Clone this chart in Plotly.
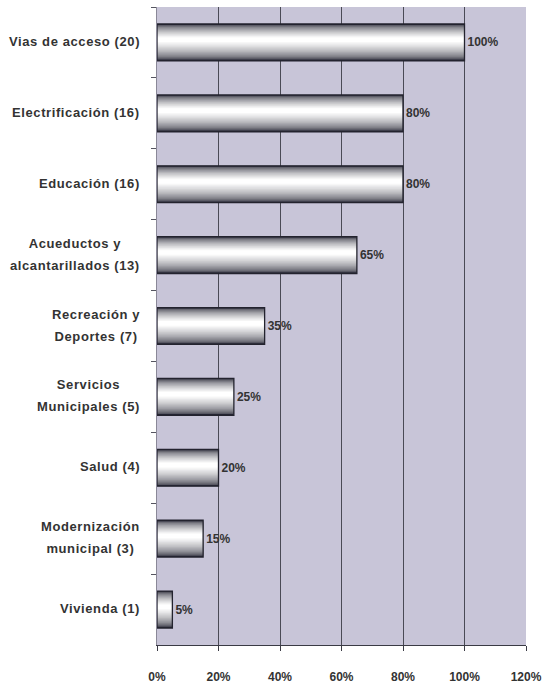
import plotly.graph_objects as go

categories = [
    "Vias de acceso (20)",
    "Electrificación (16)",
    "Educación (16)",
    "Acueductos y<br>alcantarillados (13)",
    "Recreación y<br>Deportes (7)",
    "Servicios<br>Municipales (5)",
    "Salud (4)",
    "Modernización<br>municipal (3)",
    "Vivienda (1)",
]
percentages = [100, 80, 80, 65, 35, 25, 20, 15, 5]
x_tick_values = [0, 20, 40, 60, 80, 100, 120]
x_tick_labels = ["0%", "20%", "40%", "60%", "80%", "100%", "120%"]

BAR_W = 0.52
fig = go.Figure()

# cylinder-like shading: stacked overlay layers from dark edge to white highlight
n_layers = 16
dark = (38, 38, 52)
for i in range(n_layers):
    t = i / (n_layers - 1)
    top = -BAR_W / 2 + t * (BAR_W / 2 - 0.07)
    bot = BAR_W / 2 - t * (BAR_W / 2 + 0.005)
    b = t ** 0.55
    col = tuple(int(round(d + (255 - d) * b)) for d in dark)
    fig.add_trace(go.Bar(
        y=categories, x=percentages, orientation="h",
        width=bot - top, offset=top,
        marker=dict(color="rgb(%d,%d,%d)" % col, line=dict(width=0)),
        hoverinfo="skip", showlegend=False,
    ))

# outline + value labels
fig.add_trace(go.Bar(
    y=categories, x=percentages, orientation="h",
    width=BAR_W,
    marker=dict(color="rgba(0,0,0,0)", line=dict(color="#23232e", width=1.3)),
    text=[f"{v}%" for v in percentages],
    textposition="outside",
    textfont=dict(family="Liberation Sans, Arial", size=12, color="#333333", weight="bold"),
    cliponaxis=False,
    showlegend=False,
))

for c in categories:
    lines = c.split("<br>")
    txt = "<br>".join(
        f"<span style='font-size:13px;letter-spacing:0.6px'>{l}</span>" for l in lines
    )
    fig.add_annotation(
        x=0, xref="paper", y=c, yref="y",
        text=txt, showarrow=False, xanchor="right", xshift=-15, yshift=1,
        align="center",
        font=dict(family="Liberation Sans, Arial", size=17, color="#333333", weight="bold"),
    )

fig.update_layout(
    width=555, height=691,
    margin=dict(l=157, r=29, t=7, b=39),
    paper_bgcolor="white",
    plot_bgcolor="#c8c5d8",
    barmode="overlay",
    bargap=0.48,
    font=dict(family="Liberation Sans, Arial", color="#333333"),
)
fig.update_xaxes(
    range=[0, 120], tickvals=x_tick_values, ticktext=x_tick_labels,
    showgrid=True, gridcolor="#4a4a55", gridwidth=1,
    showline=True, linecolor="#3a3a44", linewidth=1,
    ticks="outside", ticklen=5, tickcolor="#3a3a44",
    ticklabelstandoff=16,
    tickfont=dict(size=12, color="#333333", weight="bold"),
    zeroline=False, fixedrange=True,
)
fig.update_yaxes(
    autorange="reversed",
    showticklabels=False,
    ticks="outside", tickson="boundaries", ticklen=5, tickcolor="#555560",
    showline=True, linecolor="#8a8898", linewidth=1,
    showgrid=False, zeroline=False, fixedrange=True,
)

fig.write_html(
    "out.html",
    config={"displayModeBar": False},
    post_script="document.body.style.margin='0px';document.body.style.overflow='hidden';",
)
